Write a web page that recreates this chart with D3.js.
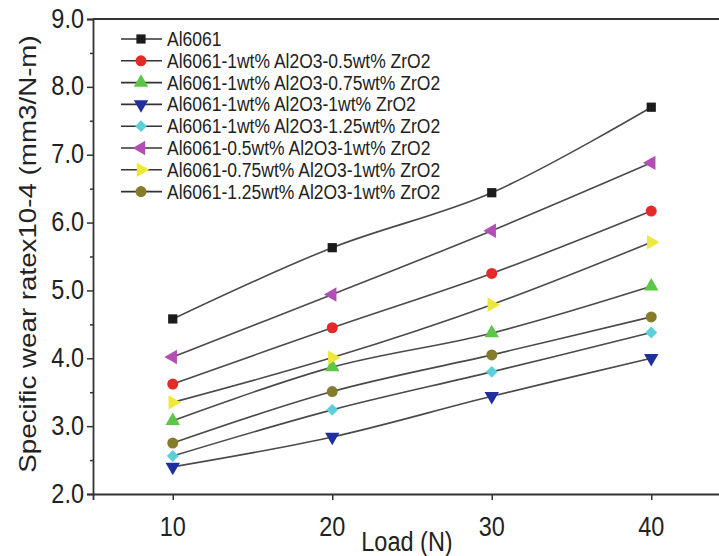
<!DOCTYPE html>
<html>
<head>
<meta charset="utf-8">
<script src="https://cdn.jsdelivr.net/npm/d3@7"></script>
<style>
  body { margin: 0; background: white; }
  text { font-family: "Liberation Sans", Arial, sans-serif; fill: #222; }
</style>
</head>
<body>
<div id="vizContainer"></div>
<script>
let w = 719;
let h = 556;
let stretch = 1.18; // the source picture is taller than wide, text looks stretched

// data
let loads = [10, 20, 30, 40];
let seriesNames = [
  "Al6061",
  "Al6061-1wt% Al2O3-0.5wt% ZrO2",
  "Al6061-1wt% Al2O3-0.75wt% ZrO2",
  "Al6061-1wt% Al2O3-1wt% ZrO2",
  "Al6061-1wt% Al2O3-1.25wt% ZrO2",
  "Al6061-0.5wt% Al2O3-1wt% ZrO2",
  "Al6061-0.75wt% Al2O3-1wt% ZrO2",
  "Al6061-1.25wt% Al2O3-1wt% ZrO2"
];
let al6061      = [4.58, 5.63, 6.44, 7.70];
let al1_zr050   = [3.62, 4.45, 5.25, 6.17];
let al1_zr075   = [3.08, 3.87, 4.37, 5.06];
let al1_zr100   = [2.40, 2.84, 3.44, 4.00];
let al1_zr125   = [2.56, 3.24, 3.80, 4.38];
let al050_zr1   = [4.02, 4.94, 5.88, 6.88];
let al075_zr1   = [3.35, 4.01, 4.79, 5.71];
let al125_zr1   = [2.75, 3.51, 4.05, 4.61];
let seriesValues = [al6061, al1_zr050, al1_zr075, al1_zr100, al1_zr125, al050_zr1, al075_zr1, al125_zr1];
let yTicks = [2, 3, 4, 5, 6, 7, 8, 9];
let yMinorTicks = [2.5, 3.5, 4.5, 5.5, 6.5, 7.5, 8.5];
let xTicks = [10, 20, 30, 40];

let colors = ["#1b1b1b", "#e52a2a", "#5cc646", "#1f2f9e", "#5ccfdb", "#b24fb4", "#eee83a", "#847c2b"];
// symbol type, rotation, size
let markers = [
  [d3.symbolSquare, 0, 85],
  [d3.symbolCircle, 0, 95],
  [d3.symbolTriangle, 0, 90],
  [d3.symbolTriangle, 180, 90],
  [d3.symbolSquare, 45, 70],
  [d3.symbolTriangle, -90, 90],
  [d3.symbolTriangle, 90, 90],
  [d3.symbolCircle, 0, 95]
];

let viz = d3.select("#vizContainer").append("svg")
    .attr("width", w)
    .attr("height", h)
    .style("background-color", "white")
;

let xScale = d3.scaleLinear().domain([5, 45]).range([93, 731]);
let yScale = d3.scaleLinear().domain([2, 9]).range([494, 19]);

// stretched text helper
function addText(parent, x, y, str, size, anchor, rotate){
  let t = parent.append("text")
    .attr("transform", rotate
      ? "translate(" + x + "," + y + ") rotate(-90) scale(" + stretch + ",1)"
      : "translate(" + x + "," + y + ") scale(1," + stretch + ")")
    .attr("text-anchor", anchor)
    .style("font-size", size + "px")
    .text(str);
  return t;
}

// frame (right side falls outside the picture)
viz.append("line")
  .attr("x1", xScale(5)).attr("x2", w)
  .attr("y1", yScale(9)).attr("y2", yScale(9))
  .attr("stroke", "#333").attr("stroke-width", 1.8);

// x axis
let xAxis = d3.axisBottom(xScale).tickValues(xTicks).tickSize(6).tickFormat("");
let xAxisGroup = viz.append("g")
    .attr("transform", "translate(0," + yScale(2) + ")")
    .call(xAxis);
xAxisGroup.select("path").attr("stroke", "#333").attr("stroke-width", 1.8);
xAxisGroup.selectAll("line").attr("stroke", "#333").attr("stroke-width", 1.5);
xTicks.forEach(d => {
  addText(viz, xScale(d), 536, d, 23.5, "middle");
});

// y axis
let yAxis = d3.axisLeft(yScale).tickValues(yTicks).tickSize(6).tickFormat("");
let yAxisGroup = viz.append("g")
    .attr("transform", "translate(" + xScale(5) + ",0)")
    .call(yAxis);
yAxisGroup.select("path").attr("stroke", "#333").attr("stroke-width", 1.8);
yAxisGroup.selectAll("line").attr("stroke", "#333").attr("stroke-width", 1.5);
let yMinor = d3.axisLeft(yScale).tickValues(yMinorTicks).tickSize(3).tickFormat("");
let yMinorGroup = viz.append("g")
    .attr("transform", "translate(" + xScale(5) + ",0)")
    .call(yMinor);
yMinorGroup.select("path").remove();
yMinorGroup.selectAll("line").attr("stroke", "#333").attr("stroke-width", 1.5);
yTicks.forEach(d => {
  addText(viz, 84, yScale(d) + 8.5, d3.format(".1f")(d), 23.5, "end");
});

// axis titles
addText(viz, 407, 551, "Load (N)", 23.5, "middle");
addText(viz, 36, 254, "Specific wear ratex10-4 (mm3/N-m)", 23.5, "middle", true);

// lines
let lineMaker = d3.line()
  .x((d, i) => xScale(loads[i]))
  .y(d => yScale(d))
  .curve(d3.curveCatmullRom);

let graphics = viz.append("g").attr("class", "graphics");

graphics.selectAll(".serieLine").data(seriesValues).enter()
  .append("path")
    .attr("class", "serieLine")
    .attr("d", d => lineMaker(d))
    .attr("fill", "none")
    .attr("stroke", "#4a4a4a")
    .attr("stroke-width", 1.6)
;

function symbolPath(i){
  return d3.symbol().type(markers[i][0]).size(markers[i][2])();
}

seriesValues.forEach((vals, i) => {
  graphics.selectAll(".pt" + i).data(vals).enter()
    .append("path")
      .attr("class", "pt" + i)
      .attr("d", symbolPath(i))
      .attr("fill", colors[i])
      .attr("transform", (d, j) => "translate(" + xScale(loads[j]) + "," + yScale(d) + ") rotate(" + markers[i][1] + ")")
  ;
});

// legend
let legend = viz.append("g").attr("class", "legend");
seriesNames.forEach((name, i) => {
  let ly = 39 + i * 21.8;
  legend.append("line")
    .attr("x1", 121).attr("x2", 162)
    .attr("y1", ly).attr("y2", ly)
    .attr("stroke", "#333").attr("stroke-width", 1.6);
  legend.append("path")
    .attr("d", symbolPath(i))
    .attr("fill", colors[i])
    .attr("transform", "translate(141," + ly + ") rotate(" + markers[i][1] + ")");
  addText(legend, 167, ly + 7, name, 17.5, "start");
});
</script>
</body>
</html>
